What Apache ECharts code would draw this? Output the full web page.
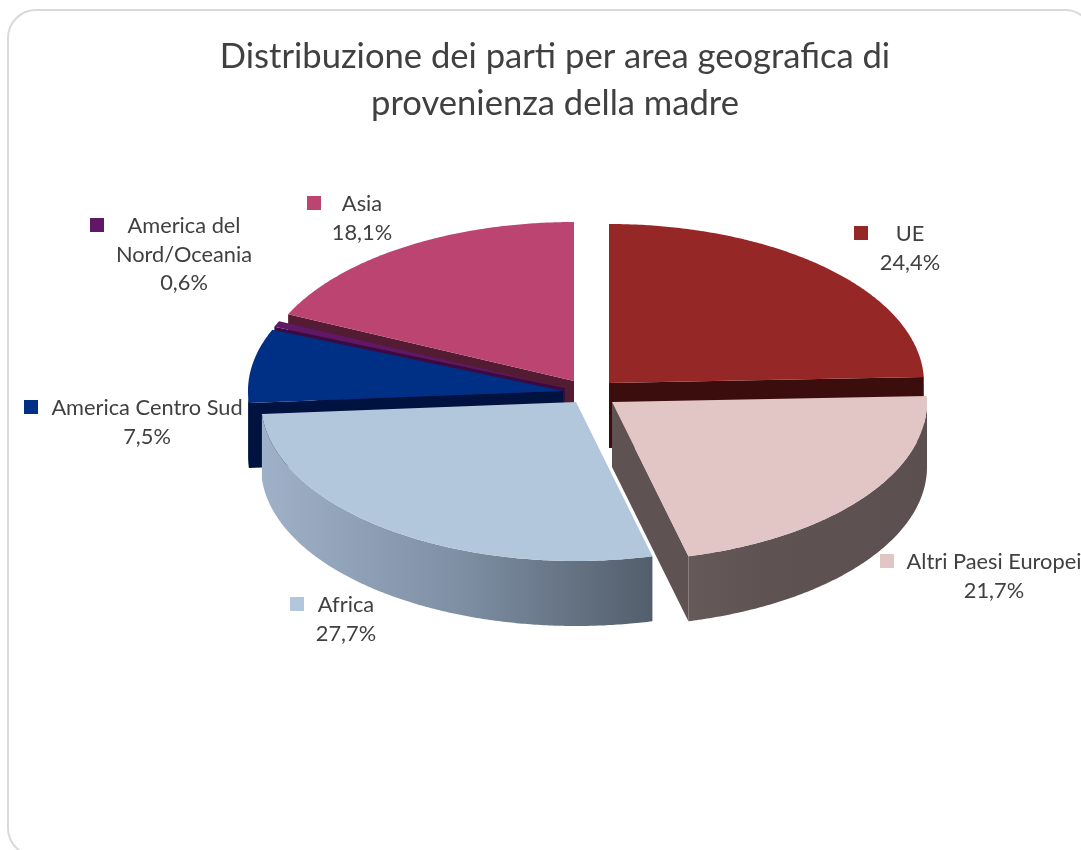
<!DOCTYPE html>
<html>
<head>
<meta charset="utf-8">
<style>html,body{margin:0;padding:0;background:#fff}#c{width:1081px;height:850px}</style>
<script src="https://cdn.jsdelivr.net/npm/echarts@6/dist/echarts.min.js"></script>
</head>
<body>
<div id="c"></div>
<script>
var titleText = 'Distribuzione dei parti per area geografica di\nprovenienza della madre';
var categories = ['UE', 'Altri Paesi Europei', 'Africa', 'America Centro Sud', 'America del\nNord/Oceania', 'Asia'];
var shares = [24.4, 21.7, 27.7, 7.5, 0.6, 18.1];

// styles
var topColors = ['#952726', '#E2C5C5', '#B2C6DC', '#002F86', '#5F1766', '#BC4470'];
var wallColors = ['#3B0D0C', '#5F5252', '#7F90A5', '#00123F', '#3A0B40', '#541C33'];
var rimStops = [
  ['#3B0D0C', '#3B0D0C'], ['#665959', '#5F5252', '#5E5151', '#5C4F4F'], ['#9FB1C8', '#7F90A5', '#525E6B'],
  ['#00123F', '#00123F'], ['#3A0B40', '#3A0B40'], ['#541C33', '#541C33']
];
// layout: exploded slice centres, stacking, label anchors
var sliceCx = [609, 612, 576, 563, 565, 574];
var sliceCy = [383, 402, 402, 391, 388, 381];
var stacking = [3, 5, 4, 2, 1, 0];
var labelX = [910, 994, 346, 147, 184, 362];
var labelY = [220, 548, 591, 394, 212, 190];
var markerX = [854, 880, 290, 24, 90, 307];
var markerY = [226, 554, 597, 400, 218, 196];
var RX = 315, RY = 159, DEPTH = 65, LINE = 28.5;

var total = shares.reduce(function (a, b) { return a + b; }, 0);
function pt(i, t, dy) {
  var r = t * Math.PI / 180;
  return [sliceCx[i] + RX * Math.sin(r), sliceCy[i] - RY * Math.cos(r) + (dy || 0)];
}
function arc(i, t1, t2, dy) {
  var out = [], n = Math.max(2, Math.ceil((t2 - t1) * 2));
  for (var k = 0; k <= n; k++) out.push(pt(i, t1 + (t2 - t1) * k / n, dy));
  return out;
}
function renderSlice(params, api) {
  var i = params.dataIndex, start = 0;
  for (var j = 0; j < i; j++) start += shares[j];
  var t1 = start / total * 360;
  var t2 = t1 + api.value(0) / total * 360;
  var z = stacking[i] * 10;
  var c = [sliceCx[i], sliceCy[i]];
  var kids = [];
  function wall(t) {
    var p = pt(i, t);
    kids.push({ type: 'polygon', z2: z, silent: true,
      shape: { points: [c, p, [p[0], p[1] + DEPTH], [c[0], c[1] + DEPTH]] },
      style: { fill: wallColors[i] } });
  }
  // cut faces turned towards the viewer
  if (Math.cos((t1 - 90) * Math.PI / 180) < -0.001) wall(t1);
  if (Math.cos((t2 + 90) * Math.PI / 180) < -0.001) wall(t2);
  // outer rim, front half only
  var a = Math.max(t1, 90), b = Math.min(t2, 270);
  if (b > a) {
    var st = rimStops[i];
    kids.push({ type: 'polygon', z2: z + 1, silent: true,
      shape: { points: arc(i, a, b, 0).concat(arc(i, a, b, DEPTH).reverse()) },
      style: { fill: new echarts.graphic.LinearGradient(0, 0, 1, 0, st.map(function (s, k) {
        return { offset: k / (st.length - 1), color: s };
      })) } });
  }
  // top face
  kids.push({ type: 'polygon', z2: z + 2, silent: true,
    shape: { points: [c].concat(arc(i, t1, t2, 0)) },
    style: { fill: topColors[i] } });
  // label
  kids.push({ type: 'rect', z2: 100, silent: true,
    shape: { x: markerX[i], y: markerY[i], width: 14, height: 14 },
    style: { fill: topColors[i] } });
  var txt = categories[i] + '\n' + api.value(0).toFixed(1).replace('.', ',') + '%';
  kids.push({ type: 'text', z2: 101, silent: true,
    style: { text: txt, x: labelX[i], y: labelY[i], align: 'center', verticalAlign: 'top',
      fill: '#404040', font: '21.8px Lato', lineHeight: LINE } });
  return { type: 'group', children: kids };
}
var chart = echarts.init(document.getElementById('c'), null, { renderer: 'canvas' });
chart.setOption({
  animation: false,
  backgroundColor: '#ffffff',
  title: {
    text: titleText, left: 550, top: 28, textAlign: 'center',
    textStyle: { fontFamily: 'Lato', fontWeight: 'normal', fontSize: 34.6, color: '#404040', lineHeight: 47 }
  },
  graphic: [{
    type: 'rect', z: -1, silent: true,
    shape: { x: 8, y: 10, width: 1085, height: 846, r: 28 },
    style: { fill: '#fff', stroke: '#D9D9D9', lineWidth: 2 }
  }],
  series: [{
    type: 'custom',
    coordinateSystem: 'none',
    renderItem: renderSlice,
    clip: false,
    silent: true,
    data: shares.map(function (v, i) { return { name: categories[i], value: [v] }; })
  }]
});
</script>
</body>
</html>
